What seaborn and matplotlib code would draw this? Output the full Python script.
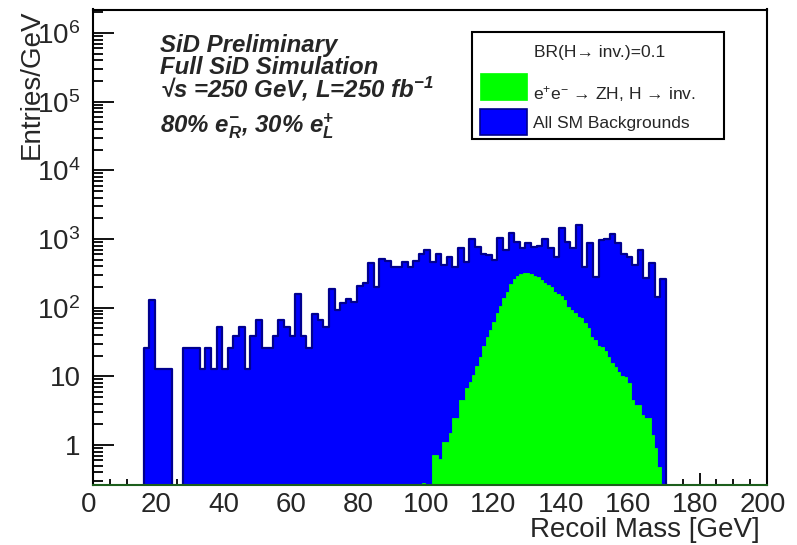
import numpy as np
import pandas as pd
import matplotlib
matplotlib.use("Agg")
import matplotlib.pyplot as plt
import seaborn as sns
from matplotlib.ticker import FixedLocator, MultipleLocator, NullFormatter
from matplotlib.patches import Rectangle
from matplotlib.transforms import ScaledTranslation

# ---------------- data ----------------
# All SM backgrounds: bins of 5/3 GeV starting at 15 GeV (Entries/GeV)
bg_first_edge = 15.0
bg_bin_width = 5.0 / 3.0
bg_counts = [26, 130, 13, 13, 13, 0, 0, 26, 26, 26,
             13, 26, 13, 53, 13, 26, 39, 53, 13, 39,
             66, 26, 26, 39, 66, 53, 39, 158, 39, 26,
             80, 66, 53, 186, 93, 116, 134, 120, 210, 227,
             443, 200, 506, 480, 396, 396, 468, 396, 484, 598,
             691, 468, 598, 419, 553, 396, 731, 468, 1000, 773,
             598, 585, 500, 1023, 700, 1209, 914, 748, 864, 770,
             790, 989, 731, 553, 1430, 893, 731, 1600, 396, 864,
             283, 967, 1000, 1170, 884, 598, 553, 419, 691, 267,
             440, 145, 262]

# Signal e+e- -> ZH, H -> inv. : 1 GeV bins centred on integer masses
sig_first_center = 98
sig_counts = [0.28, 0, 0, 0.71, 0.71, 0.63, 1.12, 1.12, 1.48, 2.45,
              2.5, 4.5, 4.5, 6.7, 8.2, 10.4, 14, 19, 28, 38,
              47, 62, 83, 106, 137, 171, 219, 259, 290, 305,
              323, 320, 305, 285, 277, 253, 230, 214, 198, 171,
              160, 150, 129, 101, 92, 83, 74, 70, 59, 50,
              38, 34, 28, 27, 23, 19, 15.5, 13.8, 11.7, 10,
              9.9, 7.9, 4.5, 3.8, 3.8, 2.7, 2.45, 2.45, 1.4, 0.9,
              0.48]

x_major_ticks = [0, 20, 40, 60, 80, 100, 120, 140, 160, 180, 200]
y_major_ticks = [1, 10, 100, 1000, 1e4, 1e5, 1e6]
y_tick_labels = ["1", "10", r"$\mathregular{10^{2}}$", r"$\mathregular{10^{3}}$",
                 r"$\mathregular{10^{4}}$", r"$\mathregular{10^{5}}$",
                 r"$\mathregular{10^{6}}$"]

# ---------------- build tables ----------------
bg_edges = bg_first_edge + bg_bin_width * np.arange(len(bg_counts) + 1)
bg_df = pd.DataFrame({"mass": (bg_edges[:-1] + bg_edges[1:]) / 2,
                      "w": bg_counts})
sig_centers = sig_first_center + np.arange(len(sig_counts))
sig_edges = np.append(sig_centers - 0.5, sig_centers[-1] + 0.5)
sig_df = pd.DataFrame({"mass": sig_centers.astype(float), "w": sig_counts})

# ---------------- style ----------------
sns.set_style("ticks")
plt.rcParams["font.family"] = ["Liberation Sans", "DejaVu Sans"]
plt.rcParams["mathtext.fontset"] = "custom"
plt.rcParams["mathtext.rm"] = "Liberation Sans"
plt.rcParams["mathtext.it"] = "Liberation Sans:italic"
plt.rcParams["mathtext.bf"] = "Liberation Sans:bold"
try:
    plt.rcParams["mathtext.bfit"] = "Liberation Sans:bold:italic"
except KeyError:
    pass

W, H = 797, 545
fig = plt.figure(figsize=(W / 100, H / 100), dpi=100)
L, R, T, B = 93, 767, 9.5, 485
ax = fig.add_axes([L / W, 1 - B / H, (R - L) / W, (B - T) / H])

BLUE = "#0000ff"
NAVY = "#00008e"
GREEN = "#00ff00"

sns.histplot(data=bg_df, x="mass", weights="w", bins=list(bg_edges), element="step",
             fill=True, color=BLUE, edgecolor=NAVY, linewidth=1.6, alpha=1,
             ax=ax, zorder=2)
sns.histplot(data=sig_df, x="mass", weights="w", bins=list(sig_edges), element="step",
             fill=True, color=GREEN, edgecolor=GREEN, linewidth=0.6, alpha=1,
             ax=ax, zorder=3)

ax.set_yscale("log")
ax.set_xlim(0, 200)
ax.set_ylim(0.2615, 2.2e6)

# ticks
ax.xaxis.set_major_locator(FixedLocator(x_major_ticks))
ax.xaxis.set_minor_locator(MultipleLocator(5))
ax.set_xticklabels([str(v) for v in x_major_ticks])
ax.yaxis.set_major_locator(FixedLocator(y_major_ticks))
ax.set_yticklabels(y_tick_labels)
minor_y = [m * 10.0 ** e for e in range(-1, 7) for m in range(2, 10)]
ax.yaxis.set_minor_locator(FixedLocator(minor_y))
ax.yaxis.set_minor_formatter(NullFormatter())

ax.tick_params(axis="both", which="both", direction="in", top=False, right=False,
               labelsize=20, width=1.3, color="black")
ax.tick_params(axis="x", which="major", length=8.6, pad=5)
ax.tick_params(axis="x", which="minor", length=4.3)
ax.tick_params(axis="y", which="major", length=15, pad=9)
ax.tick_params(axis="y", which="minor", length=7.5)

shift = ScaledTranslation(-4 / 100, 0, fig.dpi_scale_trans)
for lab in ax.get_xticklabels():
    lab.set_transform(lab.get_transform() + shift)

for s in ax.spines.values():
    s.set_linewidth(1.5)
    s.set_color("black")
    s.set_zorder(5)
ax.spines["bottom"].set_color("#1d5f1d")

ax.set_xlabel("Recoil Mass [GeV]", fontsize=20, loc="right")
ax.xaxis.set_label_coords((760 - L) / (R - L), -(517 - B) / (B - T))
ax.set_ylabel("Entries/GeV", fontsize=20, loc="top")
ax.yaxis.set_label_coords(-(L - 45) / (R - L), 1.0)

# ---------------- annotation block ----------------
def fx(px):
    return px / W

def fy(py):
    return 1 - py / H

bk = dict(fontsize=17.3, fontweight="bold", fontstyle="italic",
          transform=fig.transFigure, va="baseline", ha="left")
fig.text(fx(160), fy(52), "SiD Preliminary", **bk)
fig.text(fx(160), fy(74), "Full SiD Simulation", **bk)
fig.text(fx(160), fy(97), "\u221as =250 GeV, L=250 fb" + r"$\mathregular{^{-1}}$", **bk)
fig.text(fx(160), fy(132), r"80% $\mathregular{e^{-}_{R}}$, 30% $\mathregular{e^{+}_{L}}$", **bk)

# ---------------- legend ----------------
lx0, ly0, lx1, ly1 = 471.7, 32.3, 724.3, 139.3
fig.patches.append(Rectangle((fx(lx0), fy(ly1)), (lx1 - lx0) / W, (ly1 - ly0) / H,
                             transform=fig.transFigure, facecolor="white",
                             edgecolor="black", linewidth=1.5, zorder=10))
fig.patches.append(Rectangle((fx(480), fy(100)), 46.7 / W, 26.7 / H,
                             transform=fig.transFigure, facecolor=GREEN,
                             edgecolor=GREEN, linewidth=0.5, zorder=11,
                             label="e+e- -> ZH, H -> inv."))
fig.patches.append(Rectangle((fx(480), fy(135)), 46.7 / W, 25.7 / H,
                             transform=fig.transFigure, facecolor=BLUE,
                             edgecolor=NAVY, linewidth=1.2, zorder=11,
                             label="All SM Backgrounds"))
lk = dict(fontsize=12.6, transform=fig.transFigure, va="baseline", zorder=12)
fig.text(fx(600), fy(56.5), "BR(H\u2192 inv.)=0.1", ha="center", **lk)
fig.text(fx(533), fy(99), r"$\mathregular{e^{+}e^{-}}$ " + "\u2192 ZH, H \u2192 inv.", ha="left", **lk)
fig.text(fx(533), fy(128), "All SM Backgrounds", ha="left", **lk)

fig.savefig("out.png", dpi=100)
